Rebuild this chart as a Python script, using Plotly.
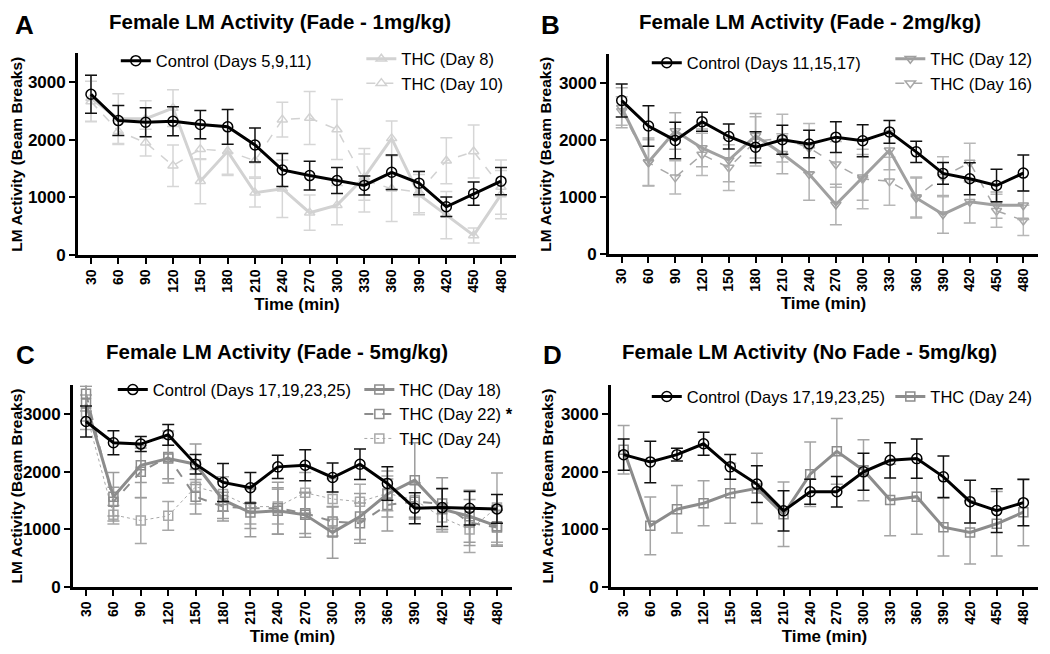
import plotly.graph_objects as go

times = ["30","60","90","120","150","180","210","240","270","300","330","360","390","420","450","480"]
idx = list(range(len(times)))

A_ctrl = [2790,2333,2305,2322,2265,2225,1910,1477,1380,1295,1209,1437,1249,839,1067,1283]
A_ctrl_err = [330,260,250,250,245,300,295,285,250,225,165,300,200,170,200,235]
A_d8 = [2721,2367,2367,2550,1283,1800,1084,1152,736,867,1352,2025,1050,696,342,1050]
A_d8_err = [400,430,310,320,390,420,250,500,305,340,400,300,350,410,130,420]
A_d10 = [2664,2150,1951,1552,1838,1803,1637,2350,2378,2179,1300,1152,1095,1637,1797,1181]
A_d10_err = [350,230,230,360,180,400,280,300,460,520,550,570,360,400,460,470]

B_ctrl = [2690,2244,1992,2318,2061,1872,2003,1929,2049,1986,2141,1792,1414,1320,1202,1420]
B_ctrl_err = [290,355,320,165,220,270,255,240,270,280,200,185,190,280,285,315]
B_d12 = [2564,1614,2158,1860,1649,2072,1757,1403,870,1345,1820,985,698,916,858,858]
B_d12_err = [350,420,320,330,380,390,350,460,355,400,340,350,330,370,230,250]
B_d16 = [2507,1603,1345,1746,1517,1975,2032,1860,1574,1317,1276,1002,1357,1603,761,590]
B_d16_err = [250,400,290,370,400,430,420,430,400,520,420,350,350,340,290,265]

C_ctrl = [2869,2501,2478,2639,2129,1813,1721,2083,2111,1899,2129,1796,1365,1377,1365,1354]
C_ctrl_err = [270,210,130,180,170,330,265,200,270,250,265,290,270,330,290,250]
C_d18 = [3180,1566,2111,2226,2129,1509,1291,1320,1251,947,1222,1612,1853,1348,1227,1055]
C_d18_err = [300,420,300,350,350,320,420,400,390,450,400,400,650,350,450,350]
C_d22 = [3350,1480,1997,2255,1566,1394,1365,1365,1279,1136,1107,1423,1480,1446,1118,1030]
C_d22_err = [300,250,450,450,300,250,350,450,350,250,350,450,300,450,400,300]
C_d24 = [3030,1251,1153,1234,1738,1612,1394,1394,1635,1526,1480,1624,1509,1205,998,1377]
C_d24_err = [300,160,400,250,300,300,300,300,350,350,300,300,300,250,400,600]

D_ctrl = [2295,2169,2295,2484,2083,1784,1320,1652,1652,1997,2197,2226,1910,1480,1325,1463]
D_ctrl_err = [270,360,110,200,215,320,350,215,265,320,305,340,360,370,380,400]
D_d24 = [2381,1061,1348,1452,1624,1710,1262,1956,2352,2025,1509,1566,1038,947,1096,1297]
D_d24_err = [420,500,410,390,520,610,560,560,570,530,620,650,500,550,560,580]

W, H = 1050, 654
FONT = "Arial, Liberation Sans, sans-serif"

fig = go.Figure()

def add(y, err, name, ax, legend, color, ecolor, width, dash, symbol, msize=9, mline=1.5):
    fig.add_trace(go.Scatter(
        x=idx, y=y, name=name, mode="lines+markers",
        xaxis="x" + ax, yaxis="y" + ax, legend=legend,
        line=dict(color=color, width=width, dash=dash),
        marker=dict(symbol=symbol, size=msize, color=color, line=dict(width=mline, color=color)),
        error_y=dict(type="data", array=err, visible=True, color=ecolor, thickness=1.5, width=6),
    ))

# Panel A
add(A_d10, A_d10_err, "THC (Day 10)", "", "legend2", "#d2d2d2", "#d6d6d6", 1.5, "dash", "triangle-up-open")
add(A_d8, A_d8_err, "THC (Day 8)", "", "legend2", "#d2d2d2", "#d6d6d6", 3, "solid", "triangle-up-open")
add(A_ctrl, A_ctrl_err, "Control (Days 5,9,11)", "", "legend", "#000000", "#111111", 3, "solid", "circle-open", 10)
# Panel B
add(B_d16, B_d16_err, "THC (Day 16)", "2", "legend4", "#a8a8a8", "#b8b8b8", 1.5, "dash", "triangle-down-open")
add(B_d12, B_d12_err, "THC (Day 12)", "2", "legend4", "#a0a0a0", "#b0b0b0", 3, "solid", "triangle-down-open")
add(B_ctrl, B_ctrl_err, "Control (Days 11,15,17)", "2", "legend3", "#000000", "#111111", 3, "solid", "circle-open", 10)
# Panel C
add(C_d24, C_d24_err, "THC (Day 24)", "3", "legend6", "#a8a8a8", "#a8a8a8", 1, "dot", "square-open")
add(C_d22, C_d22_err, "THC (Day 22) <b>*</b>", "3", "legend6", "#8c8c8c", "#9c9c9c", 2, "dash", "square-open")
add(C_d18, C_d18_err, "THC (Day 18)", "3", "legend6", "#8c8c8c", "#9c9c9c", 3, "solid", "square-open")
add(C_ctrl, C_ctrl_err, "Control (Days 17,19,23,25)", "3", "legend5", "#000000", "#111111", 3, "solid", "circle-open", 10)
# Panel D
add(D_d24, D_d24_err, "THC (Day 24)", "4", "legend8", "#8c8c8c", "#a4a4a4", 3, "solid", "square-open")
add(D_ctrl, D_ctrl_err, "Control (Days 17,19,23,25)", "4", "legend7", "#000000", "#111111", 3, "solid", "circle-open", 10)

def px_x(a, b):
    return [a / W, b / W]

def px_y(top, bottom):
    return [1 - bottom / H, 1 - top / H]

domains = {
    "": (px_x(68, 507), px_y(46, 251)),
    "2": (px_x(600, 1030), px_y(47, 250)),
    "3": (px_x(63, 503), px_y(383, 588)),
    "4": (px_x(602, 1030), px_y(383, 588)),
}

layout = dict(
    width=W, height=H, margin=dict(l=0, r=0, t=0, b=0),
    paper_bgcolor="white", plot_bgcolor="white",
    font=dict(family=FONT, color="black"),
    showlegend=True,
)
for ax, (dx, dy) in domains.items():
    layout["xaxis" + ax] = dict(
        domain=dx, anchor="y" + ax, range=[-0.48, 15.55],
        tickmode="array", tickvals=idx, ticktext=times, tickangle=-90,
        ticks="outside", ticklen=6, tickwidth=2, tickcolor="black",
        showline=True, linewidth=2.5, linecolor="black", showgrid=False, zeroline=False,
        tickfont=dict(size=14, family=FONT, color="black", weight="bold"),
        title=dict(text="<b>Time (min)</b>", font=dict(size=17, family=FONT), standoff=7),
    )
    layout["yaxis" + ax] = dict(
        domain=dy, anchor="x" + ax, range=[0, 3500],
        tickmode="array", tickvals=[0, 1000, 2000, 3000],
        ticks="outside", ticklen=6, tickwidth=2, tickcolor="black",
        showline=True, linewidth=2.5, linecolor="black", showgrid=False, zeroline=False,
        tickfont=dict(size=17, family=FONT, color="black", weight="bold"),
        title=dict(text="<b>LM Activity (Beam Breaks)</b>", font=dict(size=15.5, family=FONT), standoff=4),
    )

def leg(xpx, ypx):
    return dict(x=xpx / W, y=1 - ypx / H, xanchor="left", yanchor="top",
                bgcolor="rgba(0,0,0,0)", font=dict(size=16.5, family=FONT, color="black"),
                tracegroupgap=0, itemwidth=30, traceorder="reversed")

layout["legend"] = leg(106, 36)
layout["legend2"] = leg(352, 34)
layout["legend3"] = leg(638, 38)
layout["legend4"] = leg(882, 34)
layout["legend5"] = leg(103, 370)
layout["legend6"] = leg(350, 370)
layout["legend7"] = leg(638, 377)
layout["legend8"] = leg(882, 377)

fig.update_layout(**layout)

titles = [
    ("A", 15, 1, "Female LM Activity (Fade - 1mg/kg)", 271, 1),
    ("B", 542, 1, "Female LM Activity (Fade - 2mg/kg)", 802, 1),
    ("C", 16, 336, "Female LM Activity (Fade - 5mg/kg)", 268, 336),
    ("D", 544, 336, "Female LM Activity (No Fade - 5mg/kg)", 801, 336),
]
for letter, lx, ly, title, tx, ty in titles:
    fig.add_annotation(text="<b>" + letter + "</b>", x=lx / W, y=1 - ly / H, xref="paper", yref="paper",
                       showarrow=False, font=dict(size=26, family=FONT, color="black"),
                       xanchor="center", yanchor="top", borderpad=0)
    fig.add_annotation(text="<b>" + title + "</b>", x=tx / W, y=1 - ty / H, xref="paper", yref="paper",
                       showarrow=False, font=dict(size=20.5, family=FONT, color="black"),
                       xanchor="center", yanchor="top", borderpad=0)

fig.write_html("out.html")
